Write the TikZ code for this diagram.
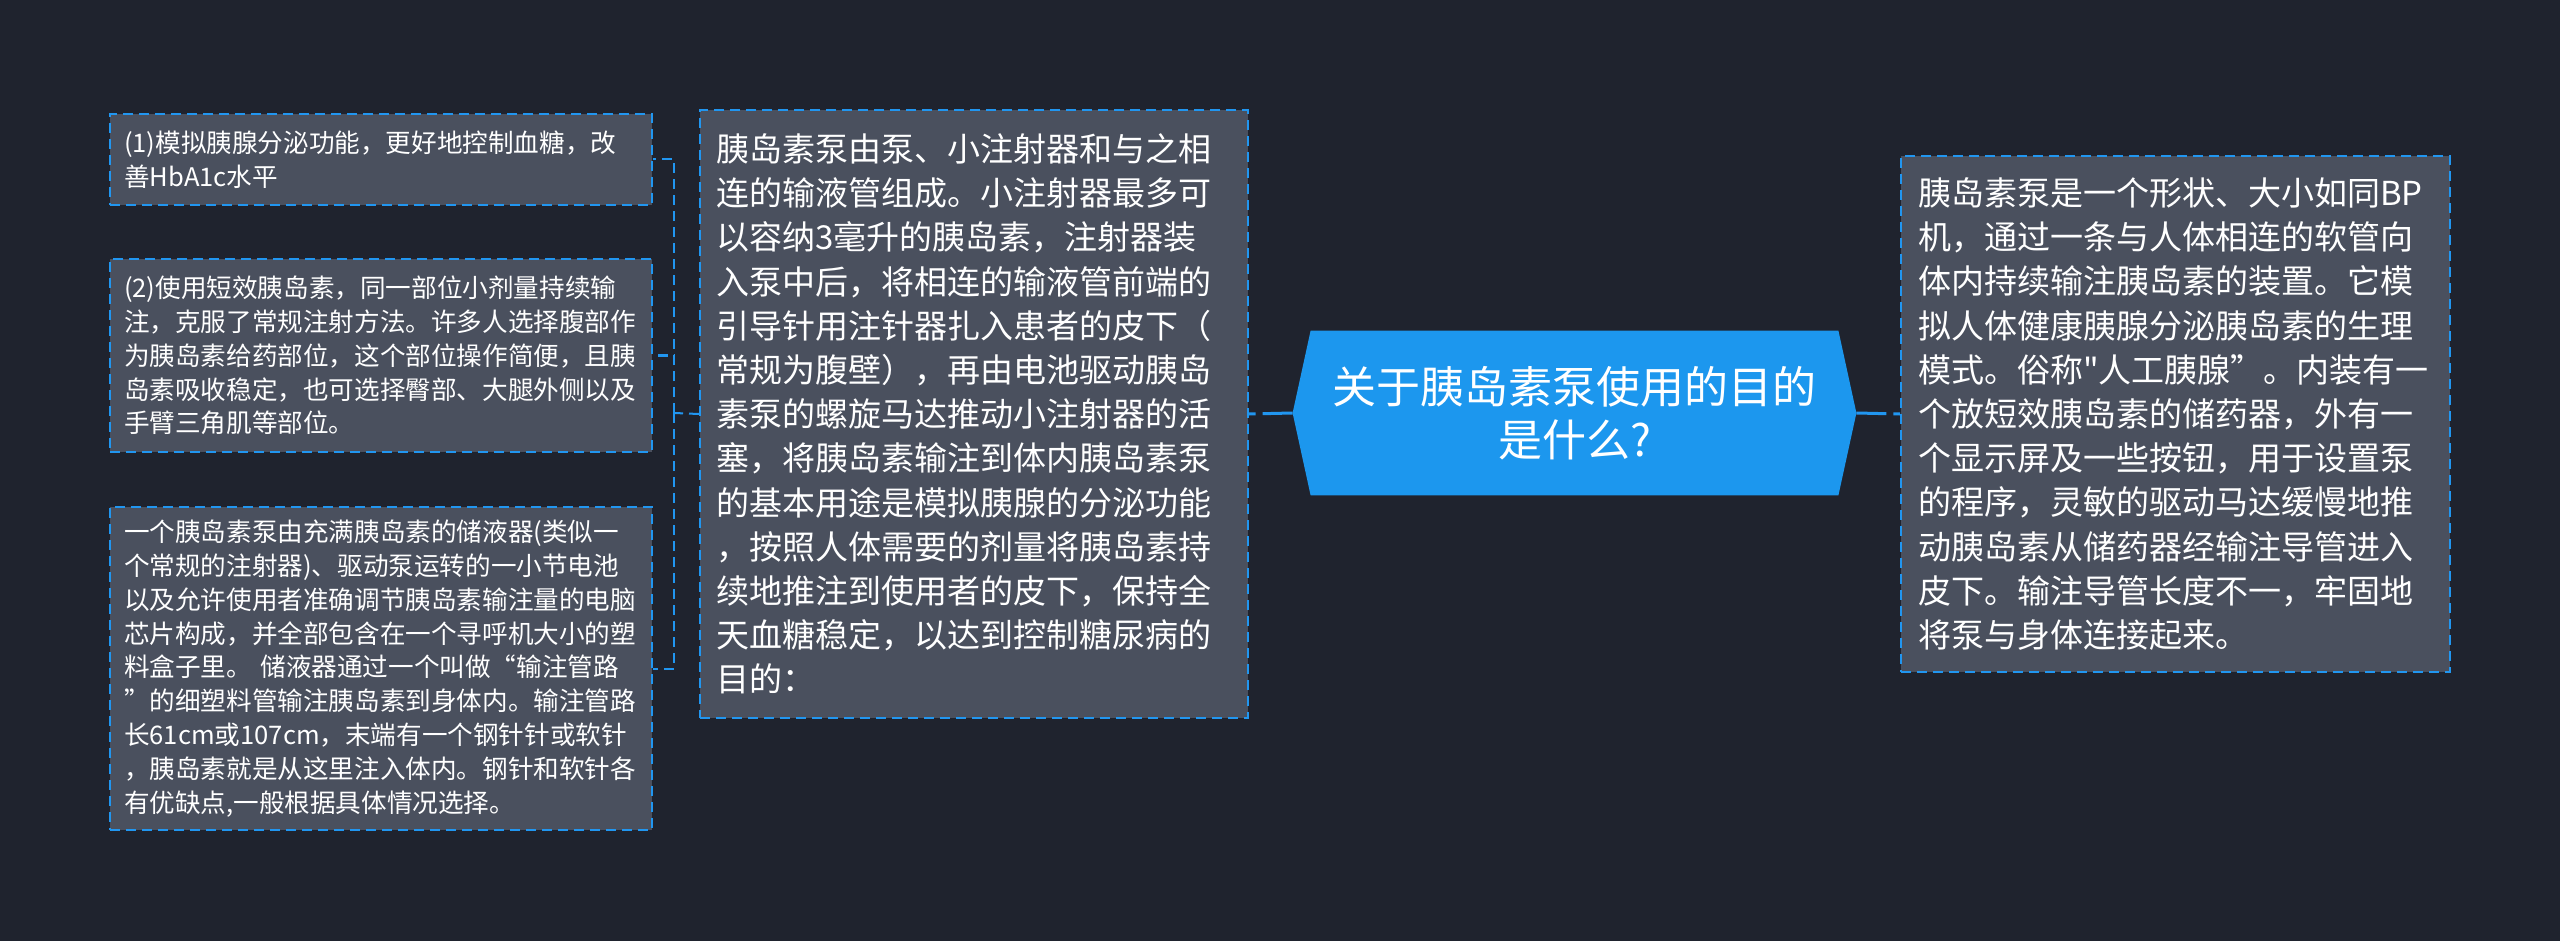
\documentclass[tikz,border=0pt]{standalone}
\usepackage{fontspec}
\newfontfamily\cjkfont{Noto Sans CJK SC}
\usetikzlibrary{calc}
\pgfdeclarelayer{bg}
\pgfsetlayers{bg,main}
\definecolor{bgc}{HTML}{1F232E}
\definecolor{boxc}{HTML}{4A505E}
\definecolor{linec}{HTML}{2196F0}
\definecolor{hexc}{HTML}{1C97EE}
\begin{document}
\begin{tikzpicture}[x=0.5pt,y=-0.5pt,
  card/.style={draw=linec, line width=1pt, dash pattern=on 5pt off 3pt, fill=boxc, text=white, anchor=north west, inner ysep=0pt, align=left},
  smallcard/.style={card, inner xsep=7pt, text width=257pt, minimum width=271pt, font=\cjkfont\fontsize{12.8pt}{16.9pt}\selectfont},
  bigcard/.style={card, inner xsep=8pt, text width=258pt, minimum width=274pt, font=\cjkfont\fontsize{16.5pt}{22.1pt}\selectfont},
  hexnode/.style={minimum width=281.5pt, minimum height=82pt, inner sep=0pt, text=white, align=center, font=\cjkfont\fontsize{22pt}{26.5pt}\selectfont},
  mainconn/.style={draw=linec, line width=1.5pt, dash pattern=on 15pt off 3.5pt},
  brconn/.style={draw=linec, line width=1pt, dash pattern=on 5pt off 3pt}]
\useasboundingbox (0,0) rectangle (2560,941);

\node[smallcard, minimum height=45.5pt] (b1) at (109,113) {(1)模拟胰腺分泌功能，更好地控制血糖，改\\善HbA1c水平};
\node[smallcard, minimum height=96.5pt] (b2) at (109,258) {(2)使用短效胰岛素，同一部位小剂量持续输\\注，克服了常规注射方法。许多人选择腹部作\\为胰岛素给药部位，这个部位操作简便，且胰\\岛素吸收稳定，也可选择臀部、大腿外侧以及\\手臂三角肌等部位。};
\node[smallcard, minimum height=161.5pt] (b3) at (109,506) {一个胰岛素泵由充满胰岛素的储液器(类似一\\个常规的注射器)、驱动泵运转的一小节电池\\以及允许使用者准确调节胰岛素输注量的电脑\\芯片构成，并全部包含在一个寻呼机大小的塑\\料盒子里。 储液器通过一个叫做“输注管路\\”的细塑料管输注胰岛素到身体内。输注管路\\长61cm或107cm，末端有一个钢针针或软针\\，胰岛素就是从这里注入体内。钢针和软针各\\有优缺点,一般根据具体情况选择。};

\node[bigcard, minimum height=304pt] (mid) at (699,109) {胰岛素泵由泵、小注射器和与之相\\连的输液管组成。小注射器最多可\\以容纳3毫升的胰岛素，注射器装\\入泵中后，将相连的输液管前端的\\引导针用注针器扎入患者的皮下（\\常规为腹壁），再由电池驱动胰岛\\素泵的螺旋马达推动小注射器的活\\塞，将胰岛素输注到体内胰岛素泵\\的基本用途是模拟胰腺的分泌功能\\，按照人体需要的剂量将胰岛素持\\续地推注到使用者的皮下，保持全\\天血糖稳定，以达到控制糖尿病的\\目的：};

\node[bigcard, inner xsep=8.5pt, text width=257.5pt, minimum width=274.5pt, minimum height=258pt] (right) at (1900,155) {胰岛素泵是一个形状、大小如同BP\\机，通过一条与人体相连的软管向\\体内持续输注胰岛素的装置。它模\\拟人体健康胰腺分泌胰岛素的生理\\模式。俗称"人工胰腺”。内装有一\\个放短效胰岛素的储药器，外有一\\个显示屏及一些按钮，用于设置泵\\的程序，灵敏的驱动马达缓慢地推\\动胰岛素从储药器经输注导管进入\\皮下。输注导管长度不一，牢固地\\将泵与身体连接起来。};

\node[hexnode] (hex) at (1574.5,413) {关于胰岛素泵使用的目的\\是什么?};

\begin{pgfonlayer}{bg}
  \fill[bgc] (0,0) rectangle (2560,941);
  \fill[hexc] (hex.west) -- ($(hex.north west)+(18,0)$) -- ($(hex.north east)+(-18,0)$) -- (hex.east) -- ($(hex.south east)+(-18,0)$) -- ($(hex.south west)+(18,0)$) -- cycle;
\end{pgfonlayer}

\draw[mainconn] (hex.west) -- (mid.east);
\draw[mainconn] (hex.east) -- (right.west);

\coordinate (j) at (674,413);
\draw[brconn] (mid.west) -- (j);
\draw[brconn] (j) |- (b1.east);
\draw[brconn] (j) |- (b2.east);
\draw[brconn] (j) |- (b3.east);
\end{tikzpicture}
\end{document}
